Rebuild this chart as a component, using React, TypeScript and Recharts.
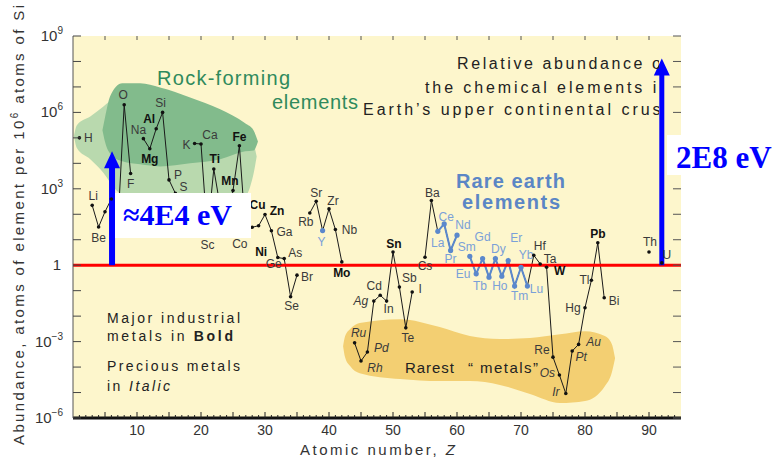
import React from "react";
import {
  ComposedChart, Line, Area, Scatter, XAxis, YAxis,
  ReferenceLine, ReferenceDot, CartesianGrid,
} from "recharts";

const W = 776;
const H = 459;

// elements plotted, atomic number Z and log10(atoms per 10^6 atoms of Si)
const symbols = [
  "H", "Li", "Be", "B", "C", "N", "O", "F",
  "Na", "Mg", "Al", "Si", "P", "S", "Cl",
  "K", "Ca", "Sc", "Ti", "V", "Cr", "Mn", "Fe", "Co", "Ni", "Cu", "Zn", "Ga", "Ge", "As", "Se", "Br",
  "Rb", "Sr", "Y", "Zr", "Nb", "Mo",
  "Ru", "Rh", "Pd", "Ag", "Cd", "In", "Sn", "Sb", "Te", "I",
  "Cs", "Ba", "La", "Ce", "Pr", "Nd",
  "Sm", "Eu", "Gd", "Tb", "Dy", "Ho", "Er", "Tm", "Yb", "Lu", "Hf", "Ta", "W", "Re", "Os", "Ir", "Pt", "Au", "Hg", "Tl", "Pb", "Bi",
  "Th", "U",
];
const atomicNumbers = [
  1, 3, 4, 5, 6, 7, 8, 9,
  11, 12, 13, 14, 15, 16, 17,
  19, 20, 21, 22, 23, 24, 25, 26, 27, 28, 29, 30, 31, 32, 33, 34, 35,
  37, 38, 39, 40, 41, 42,
  44, 45, 46, 47, 48, 49, 50, 51, 52, 53,
  55, 56, 57, 58, 59, 60,
  62, 63, 64, 65, 66, 67, 68, 69, 70, 71, 72, 73, 74, 75, 76, 77, 78, 79, 80, 81, 82, 83,
  90, 92,
];
const logAbundance = [
  5.0, 2.35, 1.5, 2.1, 2.6, 1.5, 6.3, 3.6,
  4.97, 4.57, 5.36, 6.0, 3.35, 2.82, 2.2,
  4.78, 4.76, 1.2, 3.78, 2.3, 2.1, 2.93, 4.69, 1.19, 1.49, 1.55, 1.99, 1.35, 0.3, 0.26, -1.24, -0.39,
  2.05, 2.51, 1.36, 2.21, 1.4, 0.13,
  -3.05, -3.76, -3.41, -1.41, -1.18, -1.41, 0.52, -0.86, -2.46, -1.05,
  0.31, 2.54, 1.33, 1.62, 0.58, 1.18,
  0.35, -0.34, 0.26, -0.47, 0.26, -0.43, 0.18, -0.82, -0.08, -0.82, 0.39, 0.05, -0.08, -3.61, -4.31, -5.04, -3.37, -3.11, -1.67, -0.59, 0.88, -1.28,
  0.52, 0.09,
];

const boldSymbols = ["Mg", "Al", "Ti", "Mn", "Fe", "Cu", "Zn", "Ni", "Cr", "Mo", "Sn", "W", "Pb"];
const italicSymbols = ["Ru", "Rh", "Pd", "Ag", "Os", "Ir", "Pt", "Au"];
const hiddenLabels = ["B", "C", "N", "Cl", "V", "Cr"];

// label offsets from the dot, px
const labelOffset: Record<string, [number, number]> = {
  H: [9, 0], Li: [1, -9], Be: [0, 11], O: [-1, -10], F: [0, 10], Na: [-5, -9], Mg: [0, 10],
  Al: [-7, -10], Si: [-2, -9], P: [9, -5], S: [8, -6], K: [-8, 2], Ca: [9, -9], Sc: [0, 10],
  Ti: [1, -10], Mn: [-3, -10], Fe: [0, -9], Co: [-6, 9], Ni: [9, 25], Cu: [-1, -21], Zn: [12, -4],
  Ga: [13, 1], Ge: [-4, 6], As: [11, -6], Se: [1, 9], Br: [10, 2], Rb: [-4, 9], Sr: [0, -8],
  Y: [-1, 11], Zr: [4, -8], Nb: [14, 0], Mo: [0, 11], Ru: [4, -10], Rh: [14, 7], Pd: [14, -4],
  Ag: [-13, 0], Cd: [-6, -9], In: [2, 8], Sn: [1, -8], Sb: [10, -9], Te: [2, 10], I: [8, -3],
  Cs: [0, 9], Ba: [1, -8], La: [0, 12], Ce: [2, -7], Pr: [0, 9], Nd: [6, -10], Sm: [-3, -9],
  Eu: [-13, 0], Gd: [0, -22], Tb: [-9, 9], Dy: [3, -10], Ho: [-2, 10], Er: [8, -23], Tm: [5, 10],
  Yb: [5, -12], Lu: [9, 3], Hf: [6, -9], Ta: [10, -5], W: [13, 4], Re: [-11, -7], Os: [-12, -2],
  Ir: [-10, -2], Pt: [9, 6], Au: [15, -2], Hg: [-12, 0], Tl: [-7, 0], Pb: [0, -9], Bi: [10, 3],
  Th: [1, -10], U: [5, -8],
};

// shaded regions: Z columns with [low, high] in log units
const lightGreenZ = [0.15, 0.6, 2.7, 4.8, 6.6, 8.9, 13.6, 19.8, 26.6, 27.7, 28.3, 28.7];
const lightGreenLo = [5.06, 4.6, 4.16, 3.61, 2.98, 2.63, 2.5, 2.5, 2.63, 3.1, 3.7, 4.27];
const lightGreenHi = [5.06, 5.5, 5.84, 6.24, 6.6, 6.9, 6.8, 6.3, 5.3, 5.0, 4.7, 4.27];
const darkGreenZ = [4.6, 5.0, 5.8, 7.7, 10.5, 13.6, 18.3, 23, 26.9, 28.2, 28.9];
const darkGreenLo = [5.3, 4.85, 4.39, 4.08, 3.96, 3.88, 4.0, 4.16, 4.47, 4.5, 4.86];
const darkGreenHi = [5.3, 5.8, 6.63, 7.14, 7.14, 6.98, 6.59, 6.12, 5.57, 5.3, 4.86];
const rarestZ = [42.2, 42.5, 43.3, 44.8, 51.1, 57.3, 62, 66.7, 71.4, 76.1, 80, 83.1, 84.2, 84.7];
const rarestLo = [-3.18, -3.6, -3.96, -4.24, -4.47, -4.55, -4.55, -4.7, -5.06, -5.41, -5.33, -4.75, -4.2, -3.65];
const rarestHi = [-3.18, -2.8, -2.51, -2.27, -2.12, -2.43, -2.78, -2.9, -2.86, -2.71, -2.59, -2.78, -3.1, -3.65];

// axis ticks
const xLabelTicks = [10, 20, 30, 40, 50, 60, 70, 80, 90];
const xMinorTicks = Array.from({ length: 94 }, (_, i) => i + 1);
const topTicks = [5, 10, 15, 20, 25, 30, 35, 40, 45, 50, 55, 60, 65, 70, 75, 80, 85, 90];
const yTicks = [-6, -5, -4, -3, -2, -1, 0, 1, 2, 3, 4, 5, 6, 7, 8, 9];
const yLabelTicks = [-6, -3, 0, 3, 6, 9];

// energy arrows (Z position, tip in log units)
const arrowLow = { z: 6.1, tip: 4.47, base: 3.85 };
const arrowHigh = { z: 92.0, tip: 8.12, base: 7.5 };

const rows = atomicNumbers.map((z, i) => ({ z, v: logAbundance[i], sym: symbols[i] }));

function withGaps(list: { z: number; v: number | null }[]) {
  const out: { z: number; v: number | null }[] = [];
  list.forEach((r, i) => {
    if (i > 0 && r.z - list[i - 1].z > 1) out.push({ z: list[i - 1].z + 1, v: null });
    out.push(r);
  });
  return out;
}
const mainLine = withGaps(rows);
const reeLine = withGaps(rows.filter((r) => r.z >= 57 && r.z <= 71));

const band = (zs: number[], lo: number[], hi: number[]) =>
  zs.map((z, i) => ({ z, r: [lo[i], hi[i]] }));
const lightGreen = band(lightGreenZ, lightGreenLo, lightGreenHi);
const darkGreen = band(darkGreenZ, darkGreenLo, darkGreenHi);
const rarest = band(rarestZ, rarestLo, rarestHi);

const isRee = (s: string, z: number) => s === "Y" || (z >= 57 && z <= 71);

const ElementDot = (p: any) => {
  const { cx, cy } = p;
  const sym: string = p.payload?.sym ?? p.sym;
  const z: number = p.payload?.z ?? p.z;
  const ree = isRee(sym, z);
  const off = labelOffset[sym] ?? [0, -9];
  const bold = boldSymbols.includes(sym);
  const italic = italicSymbols.includes(sym);
  return (
    <g>
      <circle cx={cx} cy={cy} r={ree ? 2.6 : 1.8} fill={ree ? "#5b88cc" : "#111"} />
      {!hiddenLabels.includes(sym) && (
        <text
          x={cx + off[0]} y={cy + off[1]} textAnchor="middle" dominantBaseline="central"
          fontSize={12} fontWeight={bold ? "bold" : "normal"} fontStyle={italic ? "italic" : "normal"}
          fill={ree ? "#7aa0d8" : bold ? "#111" : "#3a3a3a"}
        >
          {sym}
        </text>
      )}
    </g>
  );
};

const BottomTick = (p: any) => {
  const v = p.payload.value;
  const len = v % 5 === 0 ? 6 : 3;
  return (
    <g>
      <line x1={p.x} x2={p.x} y1={p.y} y2={p.y - len} stroke="#222" />
      {xLabelTicks.includes(v) && (
        <text x={p.x} y={p.y + 17} textAnchor="middle" fontSize={14} fill="#333">{v}</text>
      )}
    </g>
  );
};

const TopTick = (p: any) => (
  <line x1={p.x} x2={p.x} y1={p.y} y2={p.y + 4} stroke="#555" />
);

const LeftTick = (p: any) => {
  const v = p.payload.value;
  return (
    <g>
      <line x1={p.x} x2={p.x + 8} y1={p.y} y2={p.y} stroke="#444" />
      {yLabelTicks.includes(v) &&
        (v === 0 ? (
          <text x={p.x - 12} y={p.y + 5} textAnchor="end" fontSize={15} fill="#333">1</text>
        ) : (
          <text x={p.x - 10} y={p.y + 5} textAnchor="end" fontSize={15} fill="#333">
            10<tspan dy={-7} fontSize={10}>{v < 0 ? `\u2212${-v}` : v}</tspan>
          </text>
        ))}
    </g>
  );
};

const RightTick = (p: any) => (
  <line x1={p.x} x2={p.x - 8} y1={p.y} y2={p.y} stroke="#555" />
);

const arrowHead = (half: number, len: number) => (p: any) => (
  <polygon
    points={`${p.cx},${p.cy} ${p.cx - half},${p.cy + len} ${p.cx + half},${p.cy + len}`}
    fill="#0000ff"
  />
);

export default function App() {
  return (
    <div
      style={{
        position: "absolute", left: 0, top: 0, width: W, height: H, background: "#fff",
        fontFamily: "'Liberation Sans', Arial, sans-serif",
      }}
    >
      <ComposedChart width={W} height={H} margin={{ top: 35, right: 94, bottom: 0, left: 0 }}>
        <CartesianGrid horizontal={false} vertical={false} fill="#fdf6cc" stroke="none" />
        <XAxis
          dataKey="z" type="number" domain={[0, 95]} allowDataOverflow ticks={xMinorTicks}
          interval={0} tickSize={0} tickMargin={0} tickLine={false}
          axisLine={{ stroke: "#111", strokeWidth: 3 }} height={41} tick={BottomTick}
        />
        <XAxis
          xAxisId="top" orientation="top" dataKey="z" type="number" domain={[0, 95]}
          allowDataOverflow ticks={topTicks} interval={0} tickSize={0} tickMargin={0}
          tickLine={false} axisLine={false} height={1} tick={TopTick}
        />
        <YAxis
          type="number" domain={[-6, 9]} allowDataOverflow ticks={yTicks} interval={0}
          tickSize={0} tickMargin={0} tickLine={false} axisLine={{ stroke: "#555" }}
          width={73} tick={LeftTick}
        />
        <YAxis
          yAxisId="right" orientation="right" type="number" domain={[-6, 9]} allowDataOverflow
          ticks={yTicks} interval={0} tickSize={0} tickMargin={0} tickLine={false}
          axisLine={false} width={1} tick={RightTick}
        />
        <Area xAxisId="top" data={lightGreen} dataKey="r" type="monotone" fill="#b9d9ae"
          fillOpacity={1} stroke="none" dot={false} activeDot={false} isAnimationActive={false} />
        <Area xAxisId="top" data={darkGreen} dataKey="r" type="monotone" fill="#82bb8c"
          fillOpacity={1} stroke="none" dot={false} activeDot={false} isAnimationActive={false} />
        <Area xAxisId="top" data={rarest} dataKey="r" type="monotone" fill="#f3cf72"
          fillOpacity={1} stroke="none" dot={false} activeDot={false} isAnimationActive={false} />
        <Line data={mainLine} dataKey="v" stroke="#1a1a1a" strokeWidth={1} dot={false}
          activeDot={false} connectNulls={false} isAnimationActive={false} />
        <Line data={reeLine} dataKey="v" stroke="#5b88cc" strokeWidth={2} dot={false}
          activeDot={false} connectNulls={false} isAnimationActive={false} />
        <Scatter yAxisId="right" data={rows} dataKey="v" shape={ElementDot} isAnimationActive={false} />
        <ReferenceLine y={0} stroke="#ff0000" strokeWidth={3} />
        <ReferenceLine
          segment={[{ x: arrowLow.z, y: 0 }, { x: arrowLow.z, y: arrowLow.base }]}
          stroke="#0000ff" strokeWidth={6}
        />
        <ReferenceDot x={arrowLow.z} y={arrowLow.tip} shape={arrowHead(8, 17)} />
        <ReferenceLine
          segment={[{ x: arrowHigh.z, y: 0 }, { x: arrowHigh.z, y: arrowHigh.base }]}
          stroke="#0000ff" strokeWidth={5}
        />
        <ReferenceDot x={arrowHigh.z} y={arrowHigh.tip} shape={arrowHead(8, 17)} />
      </ComposedChart>

      <svg
        width={W} height={H}
        style={{ position: "absolute", left: 0, top: 0, pointerEvents: "none" }}
        fontFamily="'Liberation Sans', Arial, sans-serif"
      >
        <defs>
          <clipPath id="titleClip">
            <rect x={0} y={0} width={659} height={H} />
          </clipPath>
        </defs>

        <text
          transform="translate(24,225) rotate(-90)" textAnchor="middle" fontSize={15} fill="#333"
          textLength={440} lengthAdjust="spacing"
        >
          Abundance, atoms of element per 10<tspan dy={-6} fontSize={10}>6</tspan>
          <tspan dy={6}> atoms of Si</tspan>
        </text>
        <text x={300} y={455} fontSize={15} fill="#333" textLength={155} lengthAdjust="spacing">
          Atomic number, <tspan fontStyle="italic">Z</tspan>
        </text>

        <g clipPath="url(#titleClip)" fontSize={16} fill="#222">
          <text x={457} y={69} textLength={211} lengthAdjust="spacing">Relative abundance of</text>
          <text x={425} y={93} textLength={243} lengthAdjust="spacing">the chemical elements in</text>
          <text x={363} y={115} textLength={305} lengthAdjust="spacing">Earth’s upper continental crust</text>
        </g>

        <text x={157} y={85} fontSize={20} fill="#2f8a5c" textLength={133} lengthAdjust="spacing">Rock-forming</text>
        <text x={272} y={109} fontSize={20} fill="#2f8a5c" textLength={86} lengthAdjust="spacing">elements</text>

        <text x={456} y={188} fontSize={20} fontWeight="bold" fill="#5b86c5" textLength={109} lengthAdjust="spacing">Rare earth</text>
        <text x={462} y={209} fontSize={20} fontWeight="bold" fill="#5b86c5" textLength={98} lengthAdjust="spacing">elements</text>

        <g fontSize={14} fill="#222">
          <text x={107} y={323} textLength={133} lengthAdjust="spacing">Major industrial</text>
          <text x={107} y={341} textLength={126} lengthAdjust="spacing">
            metals in <tspan fontWeight="bold">Bold</tspan>
          </text>
          <text x={107} y={371} textLength={133} lengthAdjust="spacing">Precious metals</text>
          <text x={107} y={391} textLength={63} lengthAdjust="spacing">
            in <tspan fontStyle="italic">Italic</tspan>
          </text>
        </g>

        <text x={405} y={373} fontSize={15} fill="#222" textLength={49} lengthAdjust="spacing">Rarest</text>
        <text x={468} y={373} fontSize={15} fill="#222" textLength={70} lengthAdjust="spacing">“ metals”</text>

        <rect x={115} y={193} width={136} height={45} fill="#fff" />
        <text x={123} y={225} fontFamily="'Liberation Serif', 'Times New Roman', serif" fontWeight="bold"
          fontSize={30} fill="#0000ff">≈4E4 eV</text>

        <rect x={667} y={135} width={109} height={40} fill="#fff" />
        <text x={676} y={168} fontFamily="'Liberation Serif', 'Times New Roman', serif" fontWeight="bold"
          fontSize={31} fill="#0000ff">2E8 eV</text>
      </svg>
    </div>
  );
}
